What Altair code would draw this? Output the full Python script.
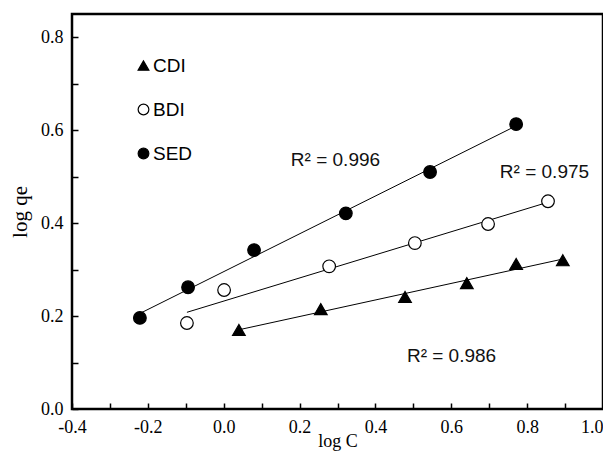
import altair as alt
import pandas as pd

# ---- data ----
series_names = ["CDI", "BDI", "SED"]
cdi_x = [0.040, 0.256, 0.478, 0.641, 0.771, 0.894]
cdi_y = [0.170, 0.215, 0.241, 0.271, 0.312, 0.320]
bdi_x = [-0.097, 0.001, 0.278, 0.504, 0.697, 0.855]
bdi_y = [0.185, 0.256, 0.307, 0.357, 0.398, 0.447]
sed_x = [-0.221, -0.094, 0.080, 0.322, 0.544, 0.771]
sed_y = [0.196, 0.262, 0.342, 0.421, 0.510, 0.613]

r2_labels = ["R\u00b2 = 0.996", "R\u00b2 = 0.975", "R\u00b2 = 0.986"]
r2_x = [0.177, 0.728, 0.483]
r2_y = [0.535, 0.510, 0.114]

x_label_values = [-0.4, -0.2, 0.0, 0.2, 0.4, 0.6, 0.8, 1.0]
x_tick_values = [-0.4, -0.3, -0.2, -0.1, 0.0, 0.1, 0.2, 0.3, 0.4, 0.5, 0.6, 0.7, 0.8, 0.9, 1.0]
y_label_values = [0.0, 0.2, 0.4, 0.6, 0.8]
y_tick_values = [0.0, 0.1, 0.2, 0.3, 0.4, 0.5, 0.6, 0.7, 0.8]

rows = []
for name, xs, ys in [("CDI", cdi_x, cdi_y), ("BDI", bdi_x, bdi_y), ("SED", sed_x, sed_y)]:
    for xv, yv in zip(xs, ys):
        rows.append({"series": name, "x": xv, "y": yv})
df = pd.DataFrame(rows)
ann = pd.DataFrame({"label": r2_labels, "x": r2_x, "y": r2_y})

xscale = alt.Scale(domain=[-0.4, 1.0], nice=False, zero=False)
yscale = alt.Scale(domain=[0.0, 0.85], nice=False, zero=False)

SERIF = "Liberation Serif"
SANS = "Liberation Sans"
label_expr = "(datum.value < 0 ? '-' : '') + format(abs(datum.value), '.1f')"

x_label_axis = alt.Axis(
    orient="bottom", values=x_label_values, labelExpr=label_expr, ticks=False, tickSize=0,
    domain=False, grid=False, labelFont=SERIF, labelFontSize=18, labelColor="black",
    labelAlign=alt.condition("datum.value >= 0.99", alt.value("right"), alt.value("center")),
    labelPadding=9, labelFlush=False, labelOverlap=False, title="log C", titleFont=SERIF,
    titleFontSize=18, titleFontWeight="normal", titleColor="black", titlePadding=-4,
)
y_label_axis = alt.Axis(
    orient="left", values=y_label_values, labelExpr=label_expr, ticks=False, tickSize=0,
    domain=False, grid=False, labelFont=SERIF, labelFontSize=18, labelColor="black",
    labelPadding=9, labelFlush=False, labelOverlap=False, title="log qe", titleFont=SERIF,
    titleFontSize=21, titleFontWeight="normal", titleColor="black", titlePadding=10,
)
x_tick_axis = alt.Axis(
    orient="bottom", values=x_tick_values, labels=False, domain=False, grid=False,
    ticks=True, tickSize=6, tickColor="black", tickWidth=1.5, offset=-6, title="",
)
y_tick_axis = alt.Axis(
    orient="left", values=y_tick_values, labels=False, domain=False, grid=False,
    ticks=True, tickSize=6, tickColor="black", tickWidth=1.5, offset=-6, title="",
)

legend = alt.Legend(title=None, orient="none", legendX=62, legendY=42,
                    labelFont=SANS, labelFontSize=19, labelColor="black",
                    symbolSize=115, symbolStrokeColor="black", symbolStrokeWidth=1.2,
                    rowPadding=24, labelOffset=0, padding=0)

points = alt.Chart(df).mark_point(size=160, opacity=1, strokeWidth=1.2).encode(
    x=alt.X("x:Q", scale=xscale, axis=x_label_axis),
    y=alt.Y("y:Q", scale=yscale, axis=y_label_axis),
    shape=alt.Shape("series:N", scale=alt.Scale(domain=series_names,
                    range=["triangle-up", "circle", "circle"]), legend=legend),
    fill=alt.Fill("series:N", scale=alt.Scale(domain=series_names,
                  range=["black", "white", "black"]), legend=legend),
    stroke=alt.Stroke("series:N", scale=alt.Scale(domain=series_names,
                      range=["black", "black", "black"]), legend=legend),
)

lines = alt.Chart(df).transform_regression(
    "x", "y", groupby=["series"]
).mark_line(color="black", strokeWidth=1).encode(
    x=alt.X("x:Q", scale=xscale, axis=x_tick_axis),
    y=alt.Y("y:Q", scale=yscale, axis=y_tick_axis),
    detail="series:N",
)

texts = alt.Chart(ann).mark_text(
    align="left", baseline="middle", font=SANS, fontSize=19, color="#111"
).encode(
    x=alt.X("x:Q", scale=xscale, axis=None),
    y=alt.Y("y:Q", scale=yscale, axis=None),
    text="label:N",
)

chart = alt.layer(lines, points, texts).resolve_axis(
    x="independent", y="independent"
).properties(
    width=531, height=395,
    autosize=alt.AutoSizeParams(type="none"),
    padding={"left": 64, "top": 6, "right": 0, "bottom": 46},
).configure_view(
    stroke="black", strokeWidth=2.5
)

chart.save("out.html", embed_options={"renderer": "svg", "actions": False})
